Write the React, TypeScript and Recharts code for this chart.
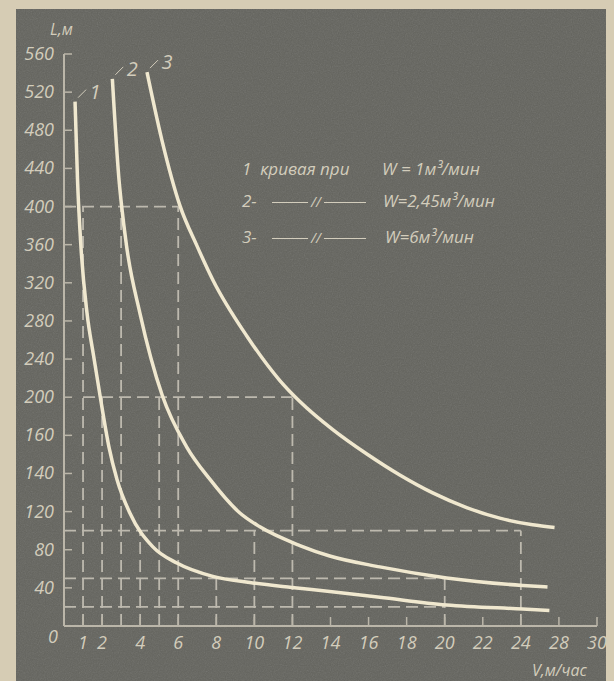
import { LineChart, Line, XAxis, YAxis, ReferenceLine, LabelList } from 'recharts';

// подписи осей (как на оригинале, шкала L неравномерная)
const yTickValues = [0, 40, 80, 120, 140, 160, 200, 240, 280, 320, 360, 400, 440, 480, 520, 560];
const xTicks = [1, 2, 4, 6, 8, 10, 12, 14, 16, 18, 20, 22, 24, 26, 28];
const xTickLabels = ['1', '2', '4', '6', '8', '10', '12', '14', '16', '18', '20', '22', '24', '28', '30'];

// кривая 1: W = 1 м3/мин
const curve1V = [0.58, 0.71, 0.89, 1.21, 1.55, 1.89, 2.36, 2.78, 3.46, 4.67, 5.93, 7.82, 9.76, 11.97, 13.96, 16.59, 20.1, 24.1, 25.5];
const curve1L = [510, 428, 358, 288, 244, 202, 154, 137, 118.5, 83, 66, 52, 45.6, 40.4, 36.2, 30.1, 22, 17.8, 16.3];

// кривая 2: W = 2,45 м3/мин
const curve2V = [2.54, 2.89, 3.03, 3.29, 3.99, 5.16, 6.44, 7.66, 9.24, 10.29, 12.39, 13.96, 16.59, 20.1, 24.1, 25.4];
const curve2L = [534, 428, 400, 358, 288, 202, 154, 137, 118.5, 104, 84.4, 73.4, 62, 50.4, 42.5, 40.9];

// кривая 3: W = 6 м3/мин
const curve3V = [4.36, 5.14, 6.09, 6.98, 7.82, 9.61, 11.34, 12.39, 14.12, 15.91, 17.64, 19.37, 21.15, 22.89, 24.62, 25.77];
const curve3L = [541, 470, 401, 359, 323, 264, 217.5, 195.5, 166, 150.2, 139.2, 129.8, 122.1, 113.1, 106.2, 103.4];

// вспомогательные построения (пунктир)
const guideLevels = [400, 200, 100, 50, 20];
const guideFrom = [0, 1, 0, 0, 0];
const guideTo = [6, 12, 24, 20, 20];
const dropV = [1, 3, 6, 2, 5, 12, 4, 10, 24, 8, 20];
const dropL = [400, 400, 400, 200, 200, 200, 100, 100, 100, 50, 50];

const bg = '#63635d';
const ink = '#d3cdbc';
const axisColor = '#bbb6a9';
const curveColor = '#f0e8cf';
const guideColor = '#bdb9ae';
const font = "'Open Sans', 'DejaVu Sans', sans-serif";

// перевод L в номер деления неравномерной шкалы
const toStep = (l: number) => {
  for (let i = 1; i < yTickValues.length; i++) {
    if (l <= yTickValues[i]) {
      const a = yTickValues[i - 1];
      const b = yTickValues[i];
      return i - 1 + (l - a) / (b - a);
    }
  }
  return yTickValues.length - 1;
};

const toRows = (vs: number[], ls: number[]) => vs.map((v, i) => ({ v, s: toStep(ls[i]) }));

const XTick = (props: any) => {
  const { x, y, payload } = props;
  const label = xTickLabels[xTicks.indexOf(payload.value)];
  return (
    <g>
      <line x1={x} y1={y} x2={x} y2={y - 9} stroke={axisColor} strokeWidth={1.5} />
      <text x={x} y={y + 23} textAnchor="middle" fill={ink} fontSize={18} fontStyle="italic" fontFamily={font}>
        {label}
      </text>
    </g>
  );
};

const YTick = (props: any) => {
  const { x, y, payload } = props;
  const label = yTickValues[payload.value];
  if (payload.value === 0) {
    return (
      <text x={x - 6} y={y + 17} textAnchor="end" fill={ink} fontSize={18} fontStyle="italic" fontFamily={font}>
        0
      </text>
    );
  }
  return (
    <g>
      <line x1={x} y1={y} x2={x + 8} y2={y} stroke={axisColor} strokeWidth={1.5} />
      <text x={x - 10} y={y + 6} textAnchor="end" fill={ink} fontSize={18} fontStyle="italic" fontFamily={font}>
        {label}
      </text>
    </g>
  );
};

const curveTag = (tag: string) => (props: any) => {
  const { x, y, index } = props;
  if (index !== 0) return null;
  return (
    <g>
      <line x1={x + 3} y1={y - 4} x2={x + 11} y2={y - 12} stroke={ink} strokeWidth={1} />
      <text x={x + 20} y={y - 3} textAnchor="middle" fill={ink} fontSize={20} fontStyle="italic" fontFamily={font}>
        {tag}
      </text>
    </g>
  );
};

const textStyle: React.CSSProperties = {
  position: 'absolute',
  color: ink,
  fontFamily: font,
  fontStyle: 'italic',
  fontSize: 17,
  lineHeight: '20px',
  whiteSpace: 'nowrap',
};

const Ditto = ({ top }: { top: number }) => (
  <>
    <div style={{ position: 'absolute', left: 272, top, width: 36, borderTop: `1.5px solid ${ink}` }} />
    <div style={{ ...textStyle, left: 311, top: top - 10, fontSize: 14 }}>//</div>
    <div style={{ position: 'absolute', left: 324, top, width: 42, borderTop: `1.5px solid ${ink}` }} />
  </>
);

export default function App() {
  return (
    <div style={{ position: 'absolute', left: 0, top: 0, width: 614, height: 681, background: '#d6ccb4', overflow: 'hidden' }}>
      <div style={{ position: 'absolute', left: 16, top: 9, width: 590, height: 672, background: bg }} />
      <svg width={590} height={672} style={{ position: 'absolute', left: 16, top: 9 }}>
        <filter id="grain">
          <feTurbulence type="fractalNoise" baseFrequency="0.85" numOctaves={2} seed={4} />
          <feColorMatrix type="saturate" values="0" />
        </filter>
        <rect width="100%" height="100%" filter="url(#grain)" opacity={0.16} />
      </svg>
      <div style={{ position: 'absolute', left: 0, top: 0 }}>
        <LineChart width={614} height={681} margin={{ top: 54, right: 17, bottom: 0, left: 0 }}>
          <XAxis
            type="number"
            dataKey="v"
            domain={[0, 28]}
            ticks={xTicks}
            interval={0}
            height={55}
            tickSize={0}
            tickMargin={0}
            tick={<XTick />}
            axisLine={{ stroke: axisColor, strokeWidth: 2 }}
            tickLine={false}
            allowDataOverflow
          />
          <YAxis
            type="number"
            domain={[0, 15]}
            ticks={yTickValues.map((_, i) => i)}
            interval={0}
            width={64}
            tickSize={0}
            tickMargin={0}
            tick={<YTick />}
            axisLine={{ stroke: axisColor, strokeWidth: 2 }}
            tickLine={false}
            allowDataOverflow
          />
          {guideLevels.map((l, i) => (
            <ReferenceLine
              key={`h${i}`}
              segment={[{ x: guideFrom[i], y: toStep(l) }, { x: guideTo[i], y: toStep(l) }]}
              stroke={guideColor}
              strokeWidth={1.8}
              strokeDasharray="12 6"
            />
          ))}
          {dropV.map((v, i) => (
            <ReferenceLine
              key={`v${i}`}
              segment={[{ x: v, y: 0 }, { x: v, y: toStep(dropL[i]) }]}
              stroke={guideColor}
              strokeWidth={1.8}
              strokeDasharray="12 6"
            />
          ))}
          <Line data={toRows(curve1V, curve1L)} dataKey="s" type="monotone" stroke={curveColor} strokeWidth={3.5} dot={false} isAnimationActive={false}>
            <LabelList content={curveTag('1')} />
          </Line>
          <Line data={toRows(curve2V, curve2L)} dataKey="s" type="monotone" stroke={curveColor} strokeWidth={3.5} dot={false} isAnimationActive={false}>
            <LabelList content={curveTag('2')} />
          </Line>
          <Line data={toRows(curve3V, curve3L)} dataKey="s" type="monotone" stroke={curveColor} strokeWidth={3.5} dot={false} isAnimationActive={false}>
            <LabelList content={curveTag('3')} />
          </Line>
        </LineChart>
      </div>
      <div style={{ ...textStyle, left: 50, top: 19, fontSize: 16 }}>L,м</div>
      <div style={{ ...textStyle, left: 532, top: 660, fontSize: 16 }}>V,м/час</div>
      <div style={{ ...textStyle, left: 242, top: 159 }}>1&nbsp; кривая при</div>
      <div style={{ ...textStyle, left: 382, top: 159 }}>W = 1м³/мин</div>
      <div style={{ ...textStyle, left: 242, top: 191 }}>2-</div>
      <Ditto top={202} />
      <div style={{ ...textStyle, left: 383, top: 191 }}>W=2,45м³/мин</div>
      <div style={{ ...textStyle, left: 242, top: 227 }}>3-</div>
      <Ditto top={238} />
      <div style={{ ...textStyle, left: 385, top: 227 }}>W=6м³/мин</div>
    </div>
  );
}
